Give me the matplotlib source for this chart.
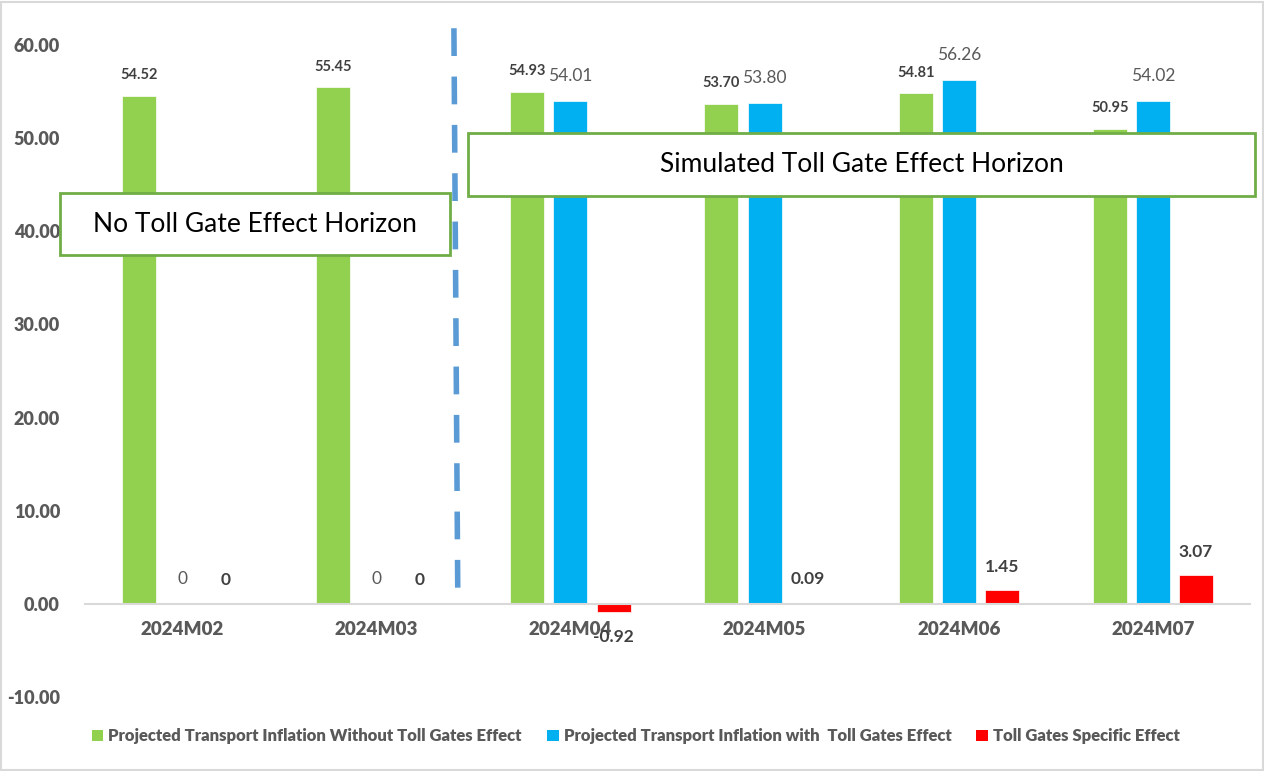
import numpy as np
import matplotlib.pyplot as plt
from matplotlib.patches import Rectangle, Patch
from matplotlib.lines import Line2D

plt.rcParams['font.family'] = ['Lato', 'DejaVu Sans']

months = ["2024M02", "2024M03", "2024M04", "2024M05", "2024M06", "2024M07"]
without_toll = [54.52, 55.45, 54.93, 53.70, 54.81, 50.95]
with_toll = [0, 0, 54.01, 53.80, 56.26, 54.02]
toll_effect = [0, 0, -0.92, 0.09, 1.45, 3.07]

green_labels = ["54.52", "55.45", "54.93", "53.70", "54.81", "50.95"]
blue_labels = ["0", "0", "54.01", "53.80", "56.26", "54.02"]
red_labels = ["0", "0", "-0.92", "0.09", "1.45", "3.07"]

legend_names = ["Projected Transport Inflation Without Toll Gates Effect",
                "Projected Transport Inflation with  Toll Gates Effect",
                "Toll Gates Specific Effect"]

green = "#92D050"
blue = "#00B0F0"
red = "#FF0000"
grey = "#595959"
dark = "#404040"

W, H = 1264, 771
fig = plt.figure(figsize=(W / 100, H / 100), dpi=100)
ax = fig.add_axes([85 / W, (H - 697) / H, (1250 - 85) / W, (697 - 45) / H])

x = np.arange(len(months))
bw = 0.175
off = 0.222

ax.bar(x - off, without_toll, bw, color=green, edgecolor="white", linewidth=0.5)
ax.bar(x, with_toll, bw, color=blue, edgecolor="white", linewidth=0.5)
ax.bar(x + off, toll_effect, bw, color=red, edgecolor="white", linewidth=0.5)

# data labels
for i in range(len(months)):
    ax.annotate(green_labels[i], (x[i] - off, without_toll[i]), xytext=(0, 15),
                textcoords="offset points", ha="center", va="center",
                fontsize=10.5, fontweight="bold", color=dark)
    ax.annotate(blue_labels[i], (x[i], with_toll[i]), xytext=(0, 18),
                textcoords="offset points", ha="center", va="center",
                fontsize=12.5, color=grey)
    dy = 17 if toll_effect[i] >= 0 else -18
    ax.annotate(red_labels[i], (x[i] + off, toll_effect[i]), xytext=(0, dy),
                textcoords="offset points", ha="center", va="center",
                fontsize=12.5, fontweight="bold", color=dark)

for s in ["top", "right", "left"]:
    ax.spines[s].set_visible(False)
ax.spines["bottom"].set_position(("data", 0))
ax.spines["bottom"].set_color("#D9D9D9")
ax.spines["bottom"].set_linewidth(1.5)

yt = np.arange(-10, 61, 10)
ax.set_xlim(-0.5, 5.5)
ax.set_ylim(-10, 60)
ax.set_yticks(yt)
ax.set_xticks(x)
ax.tick_params(axis="y", length=0, pad=18, labelsize=13, labelcolor=grey)
ax.tick_params(axis="x", length=0, pad=12, labelsize=13.5, labelcolor=grey)
ax.set_yticklabels([f"{v:.2f}" for v in yt], fontweight="heavy")
ax.set_xticklabels(months, fontweight="heavy")

# dashed divider between horizons
ax.add_line(Line2D([1.40, 1.42], [61.8, 0.6], color="#5B9BD5", linewidth=4,
                   linestyle=(0, (5, 3.7)), clip_on=False))

# horizon boxes
def box(x0, y0, x1, y1, text):
    fig.add_artist(Rectangle((x0 / W, 1 - y1 / H), (x1 - x0) / W, (y1 - y0) / H,
                             transform=fig.transFigure, facecolor="white",
                             edgecolor="#70AD47", linewidth=2, zorder=3))
    fig.text((x0 + x1) / 2 / W, 1 - (y0 + y1) / 2 / H, text, ha="center", va="center",
             fontsize=19, color="black", zorder=4)

box(60, 193, 450, 255, "No Toll Gate Effect Horizon")
box(468, 133, 1255, 196, "Simulated Toll Gate Effect Horizon")

handles = [Patch(facecolor=green), Patch(facecolor=blue), Patch(facecolor=red)]
leg = fig.legend(handles, legend_names, loc="center", bbox_to_anchor=(0.503, 0.045),
                 ncol=3, frameon=False, handlelength=0.7, handleheight=0.7,
                 handletextpad=0.3, columnspacing=1.5,
                 prop={"weight": "heavy", "size": 12})
for t in leg.get_texts():
    t.set_color(grey)

# figure border
fig.add_artist(Rectangle((0.001, 0.001), 0.998, 0.997, transform=fig.transFigure,
                         fill=False, edgecolor="#D9D9D9", linewidth=1.5))

fig.savefig("out.png", dpi=100)
